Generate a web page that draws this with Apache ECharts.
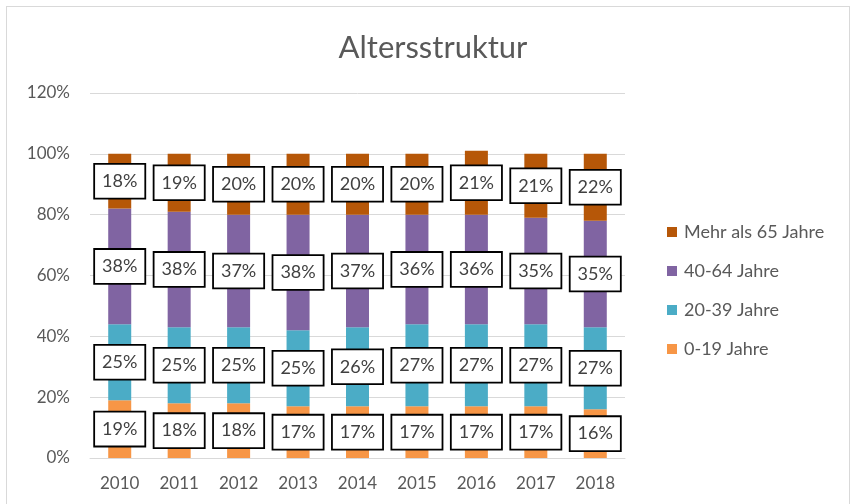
<!DOCTYPE html>
<html>
<head>
<meta charset="utf-8">
<script src="https://cdn.jsdelivr.net/npm/echarts@6/dist/echarts.min.js"></script>
<style>
  html, body { margin: 0; padding: 0; background: #fff; }
  #frame { position: absolute; left: 6px; top: 6px; width: 844px; height: 520px; border: 1px solid #d9d9d9; box-sizing: border-box; }
  #chart { position: absolute; left: 0; top: 0; width: 855px; height: 504px; }
</style>
</head>
<body>
<div id="frame"></div>
<div id="chart"></div>
<script>
// Age structure shares per year (percent)
const years = ['2010', '2011', '2012', '2013', '2014', '2015', '2016', '2017', '2018'];
const age0to19 = [19, 18, 18, 17, 17, 17, 17, 17, 16];
const age20to39 = [25, 25, 25, 25, 26, 27, 27, 27, 27];
const age40to64 = [38, 38, 37, 38, 37, 36, 36, 35, 35];
const age65plus = [18, 19, 20, 20, 20, 20, 21, 21, 22];
const yTicks = [0, 20, 40, 60, 80, 100, 120];

const seriesNames = ['0-19 Jahre', '20-39 Jahre', '40-64 Jahre', 'Mehr als 65 Jahre'];
const seriesColors = ['#F79646', '#4BACC6', '#8064A2', '#B65708'];
const seriesValues = [age0to19, age20to39, age40to64, age65plus];

const font = 'Lato, "Open Sans", sans-serif';
const textColor = '#595959';

const chart = echarts.init(document.getElementById('chart'), null, { renderer: 'canvas' });

chart.setOption({
  animation: false,
  backgroundColor: 'transparent',
  title: {
    text: 'Altersstruktur',
    left: 428,
    textAlign: 'center',
    top: 27,
    textStyle: { fontFamily: font, fontSize: 31, fontWeight: 400, color: textColor }
  },
  legend: {
    orient: 'vertical',
    left: 662,
    top: 218,
    itemWidth: 10,
    itemHeight: 10,
    itemGap: 21,
    icon: 'rect',
    data: seriesNames.slice().reverse(),
    textStyle: { fontFamily: font, fontSize: 18, color: textColor, padding: [0, 0, 0, 2] }
  },
  grid: { left: 90, right: 230, top: 93, bottom: 46, containLabel: false },
  xAxis: {
    type: 'category',
    data: years,
    axisLine: { lineStyle: { color: '#d9d9d9', width: 1 } },
    axisTick: { show: false },
    axisLabel: { margin: 17, fontFamily: font, fontSize: 17, color: textColor }
  },
  yAxis: {
    type: 'value',
    min: yTicks[0],
    max: yTicks[yTicks.length - 1],
    interval: 20,
    axisLine: { show: false },
    axisTick: { show: false },
    splitLine: { lineStyle: { color: '#d9d9d9', width: 1 } },
    axisLabel: { margin: 20, fontFamily: font, fontSize: 17, color: textColor, formatter: '{value}%' }
  },
  series: seriesNames.map((name, i) => ({
    name: name,
    type: 'bar',
    stack: 'total',
    barWidth: 23,
    itemStyle: { color: seriesColors[i] },
    data: seriesValues[i],
    label: {
      show: true,
      position: 'inside',
      formatter: '{c}%',
      fontFamily: font,
      fontSize: 18,
      color: '#404040',
      backgroundColor: '#ffffff',
      borderColor: '#000000',
      borderWidth: 1.8,
      padding: [8, 7, 7, 7]
    }
  }))
});
</script>
</body>
</html>
